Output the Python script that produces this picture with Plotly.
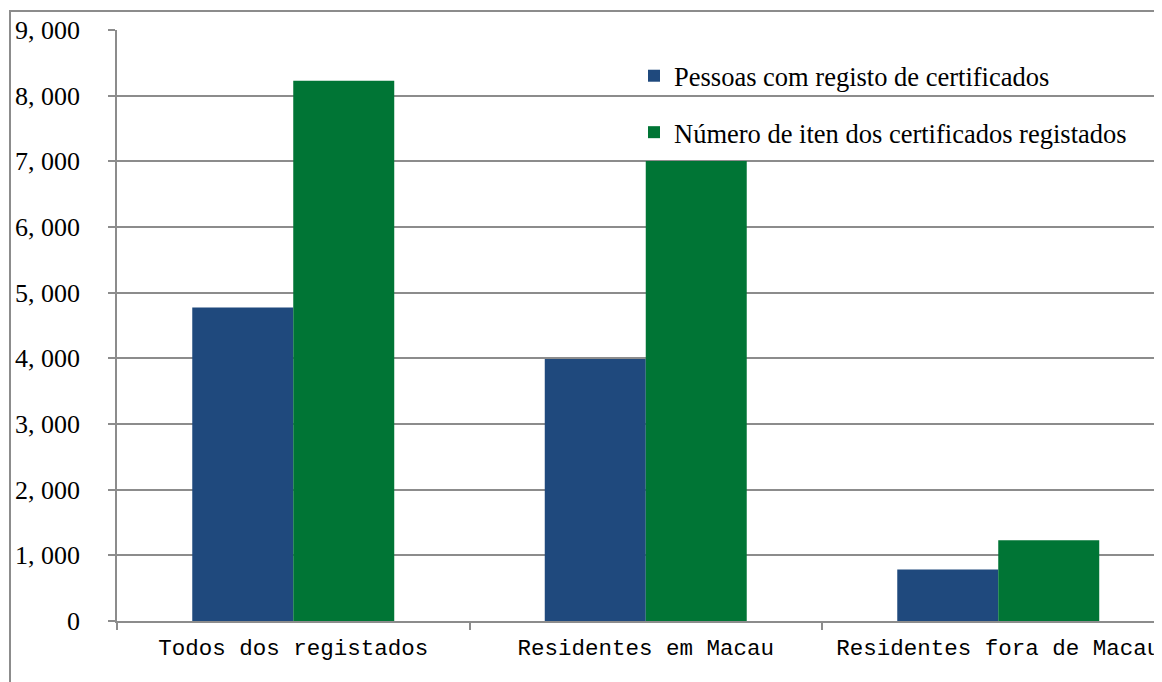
import plotly.graph_objects as go

categories = ["Todos dos registados", "Residentes em Macau", "Residentes fora de Macau"]
pessoas = [4773, 3990, 784]
itens = [8229, 7005, 1230]
series_names = ["Pessoas com registo de certificados", "Número de iten dos certificados registados"]
ytick_vals = [0, 1000, 2000, 3000, 4000, 5000, 6000, 7000, 8000, 9000]
ytick_text = ["0", "1, 000", "2, 000", "3, 000", "4, 000", "5, 000", "6, 000", "7, 000", "8, 000", "9, 000"]

# page body adds ~8px offset; size the figure to fit the window
W, H = 1154, 674
ml, mr, mt, mb = 109, 0, 22, 61
pw, ph = W - ml - mr, H - mt - mb

fig = go.Figure()
fig.add_trace(go.Bar(x=categories, y=pessoas, name=series_names[0],
                     marker=dict(color="#1F497D", line=dict(width=0)),
                     legendgroup="a"))
fig.add_trace(go.Bar(x=categories, y=itens, name=series_names[1],
                     marker=dict(color="#007535", line=dict(width=0)),
                     legendgroup="b"))

cat_w = 352.5
xr_right = -0.5 + pw / cat_w

fig.update_layout(
    width=W, height=H,
    margin=dict(l=ml, r=mr, t=mt, b=mb),
    paper_bgcolor="white", plot_bgcolor="white",
    barmode="group", bargap=0.427, bargroupgap=0,
    font=dict(family="Liberation Serif", color="black"),
    legend=dict(x=(626 - ml) / pw, y=1 - (44 - mt) / ph, xanchor="left", yanchor="top",
                bgcolor="rgba(0,0,0,0)", font=dict(family="Liberation Serif", size=26.5, color="black"),
                tracegroupgap=19, traceorder="grouped"),
    xaxis=dict(range=[-0.5, xr_right], showgrid=False, showline=True, linecolor="#8c8c8c", linewidth=1.5,
               ticks="outside", tickson="boundaries", ticklen=7, tickcolor="#8c8c8c", tickwidth=1.5,
               ticklabelstandoff=5,
               tickfont=dict(family="Liberation Mono", size=22.5, color="black")),
    yaxis=dict(range=[0, 9000], tickvals=ytick_vals, ticktext=ytick_text,
               showgrid=True, gridcolor="#8c8c8c", gridwidth=1.6,
               showline=True, linecolor="#8c8c8c", linewidth=1.5,
               ticks="outside", ticklen=7, tickcolor="#8c8c8c", tickwidth=1.5,
               ticklabelstandoff=23,
               tickfont=dict(family="Liberation Serif", size=26, color="black")),
    shapes=[dict(type="rect", xref="paper", yref="paper",
                 x0=(2 - ml) / pw, x1=1.1, y0=-0.3, y1=1 + (mt - 3) / ph,
                 line=dict(color="#8c8c8c", width=2), fillcolor="rgba(0,0,0,0)", layer="above")],
)

fig.write_html("out.html")
